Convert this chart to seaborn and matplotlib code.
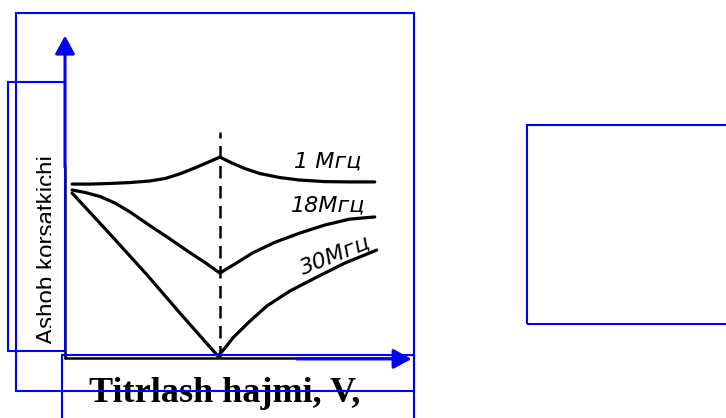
import numpy as np
import pandas as pd
import matplotlib
matplotlib.use("Agg")
import matplotlib.pyplot as plt
import seaborn as sns
from matplotlib.patches import Rectangle

# curves (arbitrary units, dashed line at x=5)
x_1mhz = [0.23, 0.81, 1.45, 2.10, 2.74, 3.23, 3.71, 4.19, 4.61, 5.0,
          5.39, 5.81, 6.29, 6.94, 7.58, 8.39, 9.19, 10.0]
y_1mhz = [5.61, 5.61, 5.63, 5.66, 5.71, 5.79, 5.94, 6.13, 6.31, 6.48,
          6.29, 6.11, 5.95, 5.82, 5.74, 5.69, 5.68, 5.68]

x_18mhz = [0.23, 0.65, 1.13, 1.61, 2.10, 2.74, 3.39, 4.03, 4.52, 5.0,
           5.48, 6.06, 6.77, 7.58, 8.39, 9.19, 10.0]
y_18mhz = [5.42, 5.34, 5.21, 5.0, 4.71, 4.27, 3.84, 3.40, 3.08, 2.74,
           3.03, 3.39, 3.73, 4.03, 4.29, 4.48, 4.55]

x_30mhz = [0.23, 1.45, 2.65, 3.71, 4.94, 5.19, 5.42, 5.97, 6.52, 7.26,
           8.13, 9.03, 10.06]
y_30mhz = [5.32, 4.0, 2.68, 1.45, 0.06, 0.35, 0.65, 1.19, 1.68, 2.16,
           2.61, 3.06, 3.48]

curve_labels = ["1 Мгц", "18Мгц", "30Мгц"]
label_x = [8.48, 8.48, 8.71]
label_y = [6.13, 4.71, 3.32]
label_rot = [0, 0, 22]

peak_x = 5.0
dash_top = 7.3

xlabel = "Titrlash hajmi, V,"
ylabel = "Ashob korsatkichi"

W, H = 726, 418
sns.set_style("white")
plt.rcParams["text.color"] = "black"

fig = plt.figure(figsize=(W / 100, H / 100), dpi=100)
ax = fig.add_axes([65 / W, (H - 358) / H, 350 / W, 325.5 / H])
ax.set_xlim(0, 11.3)
ax.set_ylim(0, 10.5)
ax.set_axis_off()

curves = pd.concat([
    pd.DataFrame({"x": x_1mhz, "y": y_1mhz, "f": "1"}),
    pd.DataFrame({"x": x_18mhz, "y": y_18mhz, "f": "18"}),
    pd.DataFrame({"x": x_30mhz, "y": y_30mhz, "f": "30"}),
])
for f, d in curves.groupby("f"):
    sns.lineplot(data=d, x="x", y="y", color="black", lw=2.3,
                 estimator=None, ax=ax, legend=False)

ax.vlines(peak_x, 0, dash_top, colors="black", lw=1.8, linestyles=(0, (5, 3)))

for t, lx, ly, r in zip(curve_labels, label_x, label_y, label_rot):
    ax.text(lx, ly, t, fontsize=16, style="italic", ha="center",
            va="baseline" if r == 0 else "center", rotation=r,
            rotation_mode="anchor", color="black")

# axis lines: black part plus blue arrows
ax.plot([0, 0], [0, 6.16], color="black", lw=1.8, clip_on=False)
ax.plot([0, 10.6], [0, 0], color="black", lw=1.8, clip_on=False)
arrow = dict(arrowstyle="-|>,head_length=0.55,head_width=0.3", color="blue",
             lw=2.2, mutation_scale=20, shrinkA=0, shrinkB=0)
ax.annotate("", xy=(0, 10.4), xytext=(0, 6.16), arrowprops=arrow,
            annotation_clip=False)
ax.annotate("", xy=(11.19, -0.03), xytext=(7.48, -0.03), arrowprops=arrow,
            annotation_clip=False)

fig.text(225 / W, (H - 402) / H, xlabel, family="Liberation Serif",
         weight="bold", fontsize=26, ha="center", va="baseline", color="black")

fig.text(54.5 / W, (H - 344) / H, ylabel, family="Liberation Sans",
         fontsize=17.4, rotation=90, rotation_mode="anchor",
         ha="left", va="baseline", color="black")
# the scan cuts the label off along its baseline side
fig.add_artist(Rectangle((51.5 / W, 1 - 350 / H), 11.5 / W, 250 / H,
                         transform=fig.transFigure, fc="white", ec="none", zorder=4))

# blue frames lying over the picture
frames = [(16, 13, 414, 391), (8, 82, 65, 351), (62, 355, 414, 425), (527, 125, 735, 324)]
for x0, y0, x1, y1 in frames:
    fig.add_artist(Rectangle((x0 / W, 1 - y1 / H), (x1 - x0) / W, (y1 - y0) / H,
                             transform=fig.transFigure, fill=False,
                             ec="blue", lw=1.5, zorder=5))

fig.savefig("out.png", dpi=100)
